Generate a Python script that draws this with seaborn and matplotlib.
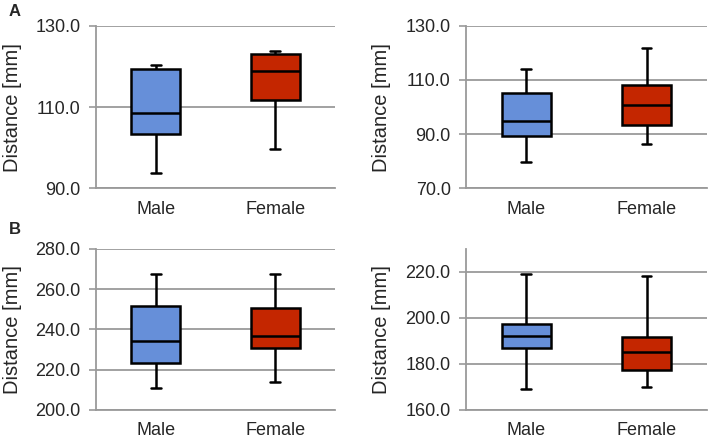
import matplotlib
matplotlib.use("Agg")
import matplotlib.pyplot as plt
import pandas as pd
import seaborn as sns

# five-number summaries (min, q1, median, q3, max)
sexes = ["Male", "Female"]

a_left_male = [93.9, 103.5, 108.5, 119.3, 120.3]
a_left_female = [99.6, 111.8, 118.9, 123.0, 123.8]
a_right_male = [79.9, 89.5, 95.0, 105.1, 113.9]
a_right_female = [86.5, 93.4, 100.8, 108.3, 121.8]
b_left_male = [210.8, 223.3, 234.4, 251.7, 267.5]
b_left_female = [213.7, 230.9, 236.6, 250.7, 267.5]
b_right_male = [169.2, 186.8, 192.0, 197.4, 219.0]
b_right_female = [169.9, 177.4, 185.1, 191.6, 218.1]

y_limits = [(90, 130), (70, 130), (200, 280), (160, 230)]
y_ticks = [[90, 110, 130], [70, 90, 110, 130], [200, 220, 240, 260, 280], [160, 180, 200, 220]]

colors = {"Male": "#668FD9", "Female": "#C42600"}
grid_gray = "#9A9A9A"

sns.set_theme(style="white")
plt.rcParams["font.family"] = ["Liberation Sans", "DejaVu Sans"]


def make_frame(male, female):
    return pd.DataFrame({
        "sex": ["Male"] * len(male) + ["Female"] * len(female),
        "value": male + female,
    })


def draw_panel(fig, rect, df, ylim, yticks):
    ax = fig.add_axes(rect)
    ax.set_axisbelow(True)
    sns.boxplot(data=df, x="sex", y="value", hue="sex", order=sexes, hue_order=sexes,
                palette=colors, saturation=1, whis=(0, 100), width=0.41, linecolor="black",
                linewidth=1.8, capwidths=0.08, legend=False, ax=ax)
    ax.set_ylim(*ylim)
    ax.set_yticks(yticks)
    ax.set_yticklabels([f"{t:.1f}" for t in yticks])
    ax.yaxis.grid(True, color=grid_gray, linewidth=1.3)
    ax.set_xlim(-0.5, 1.5)
    ax.set_xticks([0, 1])
    ax.set_xticklabels(sexes)
    ax.set_xticks([-0.5, 0.5, 1.5], minor=True)
    ax.tick_params(axis="x", which="major", length=0, pad=9, labelsize=13)
    ax.tick_params(axis="x", which="minor", length=5, width=1.2, color=grid_gray, direction="out")
    ax.tick_params(axis="y", length=5, width=1.2, color=grid_gray, direction="out", pad=6,
                   labelsize=13, left=True)
    for side in ["top", "right"]:
        ax.spines[side].set_visible(False)
    for side in ["left", "bottom"]:
        ax.spines[side].set_color(grid_gray)
        ax.spines[side].set_linewidth(1.3)
    ax.set_xlabel("")
    ax.set_ylabel("Distance [mm]", fontsize=14.5)
    ax.yaxis.set_label_coords(-0.31, 0.5)
    return ax


fig = plt.figure(figsize=(7.09, 4.40), dpi=100)

panels = [
    ([0.1354, 0.5716, 0.3371, 0.370], make_frame(a_left_male, a_left_female)),
    ([0.6573, 0.5716, 0.3395, 0.370], make_frame(a_right_male, a_right_female)),
    ([0.1354, 0.0682, 0.3371, 0.3664], make_frame(b_left_male, b_left_female)),
    ([0.6573, 0.0682, 0.3395, 0.3664], make_frame(b_right_male, b_right_female)),
]

for (rect, df), ylim, yt in zip(panels, y_limits, y_ticks):
    draw_panel(fig, rect, df, ylim, yt)

fig.text(15 / 709, 1 - 12 / 440, "A", fontsize=12, fontweight="bold", ha="center", va="center")
fig.text(15 / 709, 1 - 229 / 440, "B", fontsize=12, fontweight="bold", ha="center", va="center")

fig.savefig("out.png", dpi=100)
